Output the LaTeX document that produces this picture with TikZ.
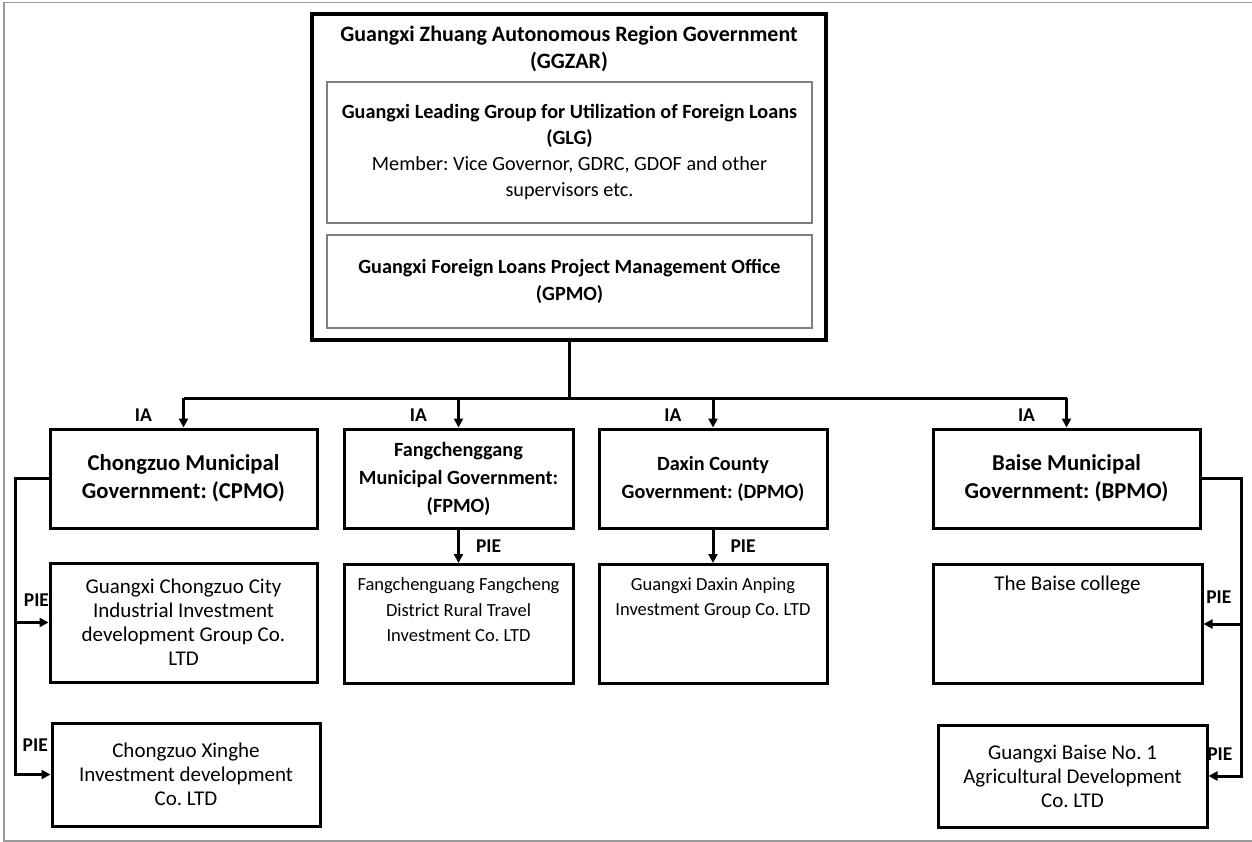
\documentclass[tikz,border=0pt]{standalone}
\usepackage{fontspec}
\setmainfont{Carlito}
\usetikzlibrary{arrows.meta,positioning,calc}
\definecolor{frame}{HTML}{9A9A9A}
\definecolor{inner}{HTML}{7F7F7F}
\frenchspacing

\begin{document}
\begin{tikzpicture}[x=1pt, y=-1pt,
    font=\fontsize{18.7}{24}\selectfont,
    topbox/.style={draw, line width=4pt, align=center, inner sep=0pt, font=\fontsize{22}{27}\selectfont\bfseries},
    groupbox/.style={draw=inner, line width=1.6pt, align=center, inner sep=0pt, font=\fontsize{20.2}{#1}\selectfont},
    groupbox/.default=26,
    govbox/.style={draw, line width=3pt, align=center, inner sep=0pt, minimum height=99pt, font=\fontsize{#1}{28}\selectfont\bfseries},
    govbox/.default=22.7,
    piebox/.style={draw, line width=3pt, align=center, inner sep=0pt, font=\fontsize{21}{24}\selectfont},
    pietop/.style 2 args={anchor=north, text height=#1, text depth=#2},
    flag/.style={inner sep=1pt, font=\fontsize{19.5}{22}\selectfont\bfseries},
    link/.style={line width=3pt},
    arrow/.style={line width=3pt, -{Triangle[length=9pt, width=9pt]}},
  ]
\useasboundingbox (0,0) rectangle (1252,842);
% --- Page frame ---------------------------------------------------------------
\draw[frame, line width=1.2pt] (1252,2.5) -- (4,2.5) -- (4,841) -- (1252,841);

% --- Regional government ------------------------------------------------------
\node[topbox, anchor=north, minimum width=514pt, text height=55pt, text depth=271pt] (ggzar) at (569,12)
  {Guangxi Zhuang Autonomous Region Government\\(GGZAR)};
\node[groupbox, minimum width=485pt, minimum height=141pt] (glg) at (569.5,152.5)
  {\textbf{Guangxi Leading Group for Utilization of Foreign Loans}\\\textbf{(GLG)}\\Member: Vice Governor, GDRC, GDOF and other\\supervisors etc.};
\node[groupbox=27, minimum width=485pt, minimum height=93pt] (gpmo) at (569.5,281.5)
  {\textbf{Guangxi Foreign Loans Project Management Office}\\\textbf{(GPMO)}};

% --- Implementing agencies ----------------------------------------------------
\node[govbox, minimum width=267pt] (cpmo) at (183.5,478.5) {Chongzuo Municipal\\Government: (CPMO)};
\node[govbox=20.2, minimum width=229pt] (fpmo) at (458.5,478.5) {Fangchenggang\\Municipal Government:\\(FPMO)};
\node[govbox=20.2, minimum width=228pt] (dpmo) at (713,478.5) {Daxin County\\Government: (DPMO)};
\node[govbox, minimum width=267pt] (bpmo) at (1066.5,478.5) {Baise Municipal\\Government: (BPMO)};

% --- Project implementing entities --------------------------------------------
\node[piebox, minimum width=267pt, minimum height=119pt] (cz1) at (183.5,622.5)
  {Guangxi Chongzuo City\\Industrial Investment\\development Group Co.\\LTD};
\node[piebox, pietop={77pt}{42pt}, minimum width=229pt, font=\fontsize{18.5}{25.5}\selectfont] (fc) at (458.5,563)
  {Fangchenguang Fangcheng\\District Rural Travel\\Investment Co. LTD};
\node[piebox, pietop={51pt}{68pt}, minimum width=228pt, font=\fontsize{18.5}{25}\selectfont] (dx) at (713,563)
  {Guangxi Daxin Anping\\Investment Group Co. LTD};
\node[piebox, pietop={26pt}{93pt}, minimum width=269pt] (bs1) at (1067.5,563) {The Baise college};
\node[piebox, minimum width=268pt, minimum height=103pt] (cz2) at (186,774.5)
  {Chongzuo Xinghe\\Investment development\\Co. LTD};
\node[piebox, minimum width=269pt, minimum height=102pt] (bs2) at (1072.5,776)
  {Guangxi Baise No. 1\\Agricultural Development\\Co. LTD};

% --- Connectors ---------------------------------------------------------------
\coordinate (bus) at (569,398);
\coordinate (lrail) at (15,0);
\coordinate (rrail) at (1241,0);
\draw[link] (ggzar.south) -- (bus);
\draw[link] (cpmo.north |- bus) -- (bpmo.north |- bus);
\foreach \n in {cpmo,fpmo,dpmo,bpmo}
  \draw[arrow] (\n.north |- bus) -- node[flag, left=29pt, yshift=-2pt] (ia-\n) {IA} (\n.north);
\draw[arrow] (fpmo.south) -- node[flag, right=15pt] (pie-fc) {PIE} (fc.north);
\draw[arrow] (dpmo.south) -- node[flag, right=15pt] (pie-dx) {PIE} (dx.north);
% left side, Chongzuo
\draw[arrow] (cpmo.west) -| (lrail |- cz2.west) -- node[flag, pos=0.57, above=21pt] (pie-cz2) {PIE} (cz2.west);
\draw[arrow] (lrail |- cz1.west) -- node[flag, pos=0.64, above=14pt] (pie-cz1) {PIE} (cz1.west);
% right side, Baise
\draw[arrow] (bpmo.east) -| (rrail |- bs2.east) -- node[flag, pos=0.65, above=13pt] (pie-bs2) {PIE} (bs2.east);
\draw[arrow] (rrail |- bs1.east) -- node[flag, pos=0.59, above=18pt] (pie-bs1) {PIE} (bs1.east);
\end{tikzpicture}
\end{document}
